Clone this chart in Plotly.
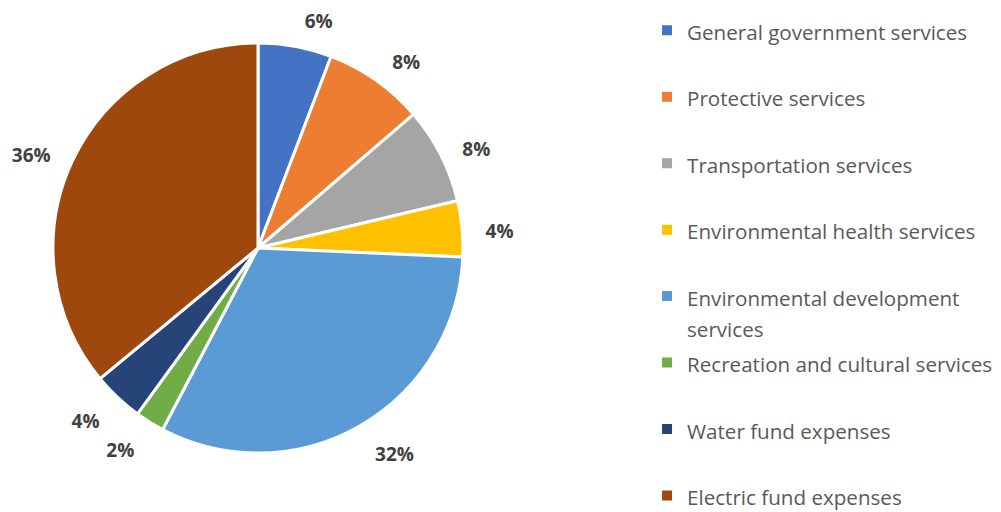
import plotly.graph_objects as go

categories = [
    "General government services",
    "Protective services",
    "Transportation services",
    "Environmental health services",
    "Environmental development<br>services",
    "Recreation and cultural services",
    "Water fund expenses",
    "Electric fund expenses",
]
values = [5.8, 7.9, 7.6, 4.4, 32.0, 2.3, 4.0, 36.0]
colors = ["#4472C4", "#ED7D31", "#A5A5A5", "#FFC000", "#5B9BD5", "#70AD47", "#264478", "#9E480E"]

# legend entries: same text size, padded to two lines for even spacing
legend_labels = []
for i, c in enumerate(categories):
    n = c.count("<br>") + 1
    pad = "<br> " * (2 - n) if i < len(categories) - 1 else ""
    legend_labels.append('<span style="font-size:20.6px">' + c.replace("<br>", '</span><br><span style="font-size:20.6px">') + "</span>" + pad)

# main pie (slices)
fig = go.Figure()
fig.add_trace(go.Pie(
    labels=legend_labels,
    values=values,
    sort=False,
    direction="clockwise",
    rotation=0,
    marker=dict(colors=colors, line=dict(color="white", width=3)),
    textinfo="none",
    domain=dict(x=[0.04496, 0.45454], y=[0.13086, 0.93164]),
    hovertemplate="%{label}: %{percent:.0%}<extra></extra>",
    showlegend=True,
))
# transparent larger pie that carries the outside percentage labels
fig.add_trace(go.Pie(
    labels=legend_labels,
    values=values,
    sort=False,
    direction="clockwise",
    rotation=0,
    marker=dict(colors=["rgba(0,0,0,0)"] * len(values), line=dict(width=0)),
    texttemplate="%{percent:.0%}",
    textposition="outside",
    textfont=dict(family="Open Sans", size=19, color="#404040", weight="bold"),
    domain=dict(x=[0.02797, 0.47153], y=[0.08984, 0.95703]),
    hoverinfo="skip",
    showlegend=False,
))

fig.update_layout(
    width=1001, height=512,
    margin=dict(l=0, r=0, t=0, b=0, autoexpand=False),
    paper_bgcolor="white",
    plot_bgcolor="white",
    showlegend=True,
    legend=dict(
        x=0.6384, xanchor="left", y=1.0, yanchor="top",
        font=dict(family="Open Sans", size=24.4, color="#595959"),
        valign="top",
        itemsizing="constant",
    ),
)

fig.write_html("out.html")
